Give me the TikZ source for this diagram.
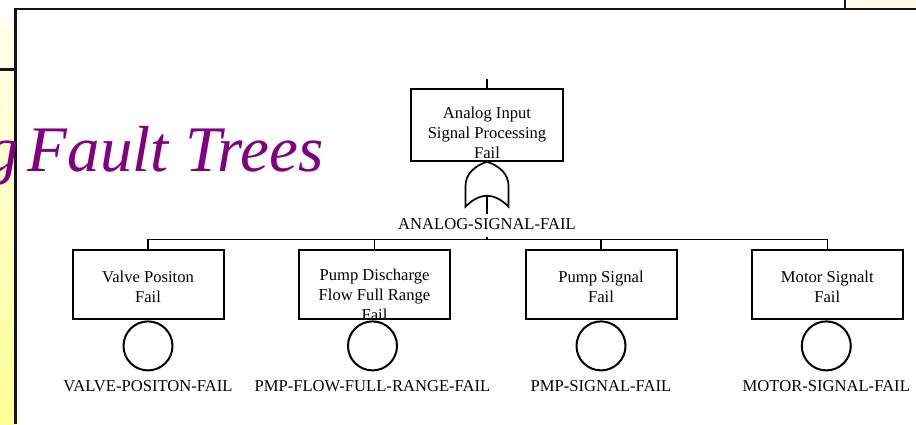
\documentclass[tikz,border=0pt]{standalone}
\usepackage{fontspec}
\setmainfont{Liberation Serif}
\usetikzlibrary{calc}

\definecolor{titlepurple}{RGB}{128,0,128}
\definecolor{stripTop}{RGB}{255,255,234}
\definecolor{stripBottom}{RGB}{255,255,150}
\definecolor{cornerFill}{RGB}{255,253,232}
\definecolor{frameInk}{RGB}{20,20,20}

\begin{document}
\begin{tikzpicture}[
  x=1pt, y=-1pt,
  frame/.style={draw=frameInk, line width=2.5pt},
  wire/.style={draw=black, line width=1.3pt},
  evbox/.style={draw=black, line width=2pt, minimum width=151pt,
                minimum height=69.4pt, inner sep=0pt},
  evtext/.style={font=\fontsize{16.6}{20}\selectfont, align=center,
                 inner sep=0pt, anchor=north},
  basic/.style={circle, draw=black, line width=2pt, minimum size=49pt,
                inner sep=0pt, anchor=north},
  lbl/.style={font=\fontsize{16.6}{20}\selectfont, inner sep=0pt},
  gatepen/.style={draw=black, line width=1.7pt, fill=white},
  heading/.style={font=\fontsize{65}{70}\selectfont\itshape,
                  text=titlepurple, inner sep=0pt}
]
\useasboundingbox (0,0) rectangle (916,424);
\clip (0,0) rectangle (916,424);

% slide background and panel frame
\fill[white] (0,0) rectangle (916,424);
\shade[top color=stripTop, bottom color=stripBottom] (0,25) rectangle (15.7,424);
\fill[cornerFill] (845,0) rectangle (916,9);
\draw[frame] (0,69.3) -- (15.7,69.3);
\draw[frame] (845,0) -- (845,9);
\draw[frame] (15.7,424) -- (15.7,9) -- (916,9);

% heading
\node[heading, anchor=base west] (heading) at (-13.5,171) {g\kern-7.5pt\ Fault Trees};

% top event
\coordinate (topin) at (487,79.3);
\node[evbox, minimum width=152pt, minimum height=71.7pt] (top) at (487,124.9) {};
\draw[wire] (topin) -- (top.north);
\node[evtext] (toptext) at ([yshift=-19pt]top.north) {Analog Input\\Signal Processing\\Fail};

% OR gate under the top event
\coordinate (g) at (top.south);
\begin{scope}[shift={(g)}]
  \draw[gatepen] (0,0) .. controls (-12,4) and (-21.5,12) .. (-21.5,24)
    -- (-21.5,45) .. controls (-14,37) and (-6,34) .. (0,34)
    .. controls (6,34) and (14,37) .. (21.5,45)
    -- (21.5,24) .. controls (21.5,12) and (12,4) .. (0,0) -- cycle;
  \coordinate (gout) at (0,34);
\end{scope}
\node[lbl] (gatelbl) at (487,224) {ANALOG-SIGNAL-FAIL};
\draw[wire, shorten >=4.5pt] (gout) -- (gatelbl.north);

% bus to the basic events
\coordinate (bus) at (487,239.7);
\draw[wire, shorten <=7pt] (gatelbl.south) -- (bus);

\node[evbox] (b1) at (148,284.7) {};
\node[evbox] (b2) at (374.5,284.7) {};
\node[evbox] (b3) at (601,284.7) {};
\node[evbox] (b4) at (827.3,284.7) {};

\draw[wire] (b1.north) -- (b1.north |- bus) -- (b4.north |- bus) -- (b4.north);
\draw[wire] (b2.north) -- (b2.north |- bus);
\draw[wire] (b3.north) -- (b3.north |- bus);

\node[evtext] (t1) at ([yshift=-21.5pt]b1.north) {Valve Positon\\Fail};
\node[evtext] (t2) at ([yshift=-19.5pt]b2.north) {Pump Discharge\\Flow Full Range\\Fail};
\node[evtext] (t3) at ([yshift=-21.5pt]b3.north) {Pump Signal\\Fail};
\node[evtext] (t4) at ([yshift=-21.5pt]b4.north) {Motor Signalt\\Fail};

% basic-event circles
\node[basic] (c1) at (b1.south) {};
\node[basic] (c2) at ([xshift=-2pt]b2.south) {};
\node[basic] (c3) at (b3.south) {};
\node[basic] (c4) at ([xshift=-1pt]b4.south) {};

\coordinate (lblrow) at (0,386);
\node[lbl] (l1) at (c1 |- lblrow) {VALVE-POSITON-FAIL};
\node[lbl] (l2) at (c2 |- lblrow) {PMP-FLOW-FULL-RANGE-FAIL};
\node[lbl] (l3) at (c3 |- lblrow) {PMP-SIGNAL-FAIL};
\node[lbl] (l4) at (c4 |- lblrow) {MOTOR-SIGNAL-FAIL};
\end{tikzpicture}
\end{document}
